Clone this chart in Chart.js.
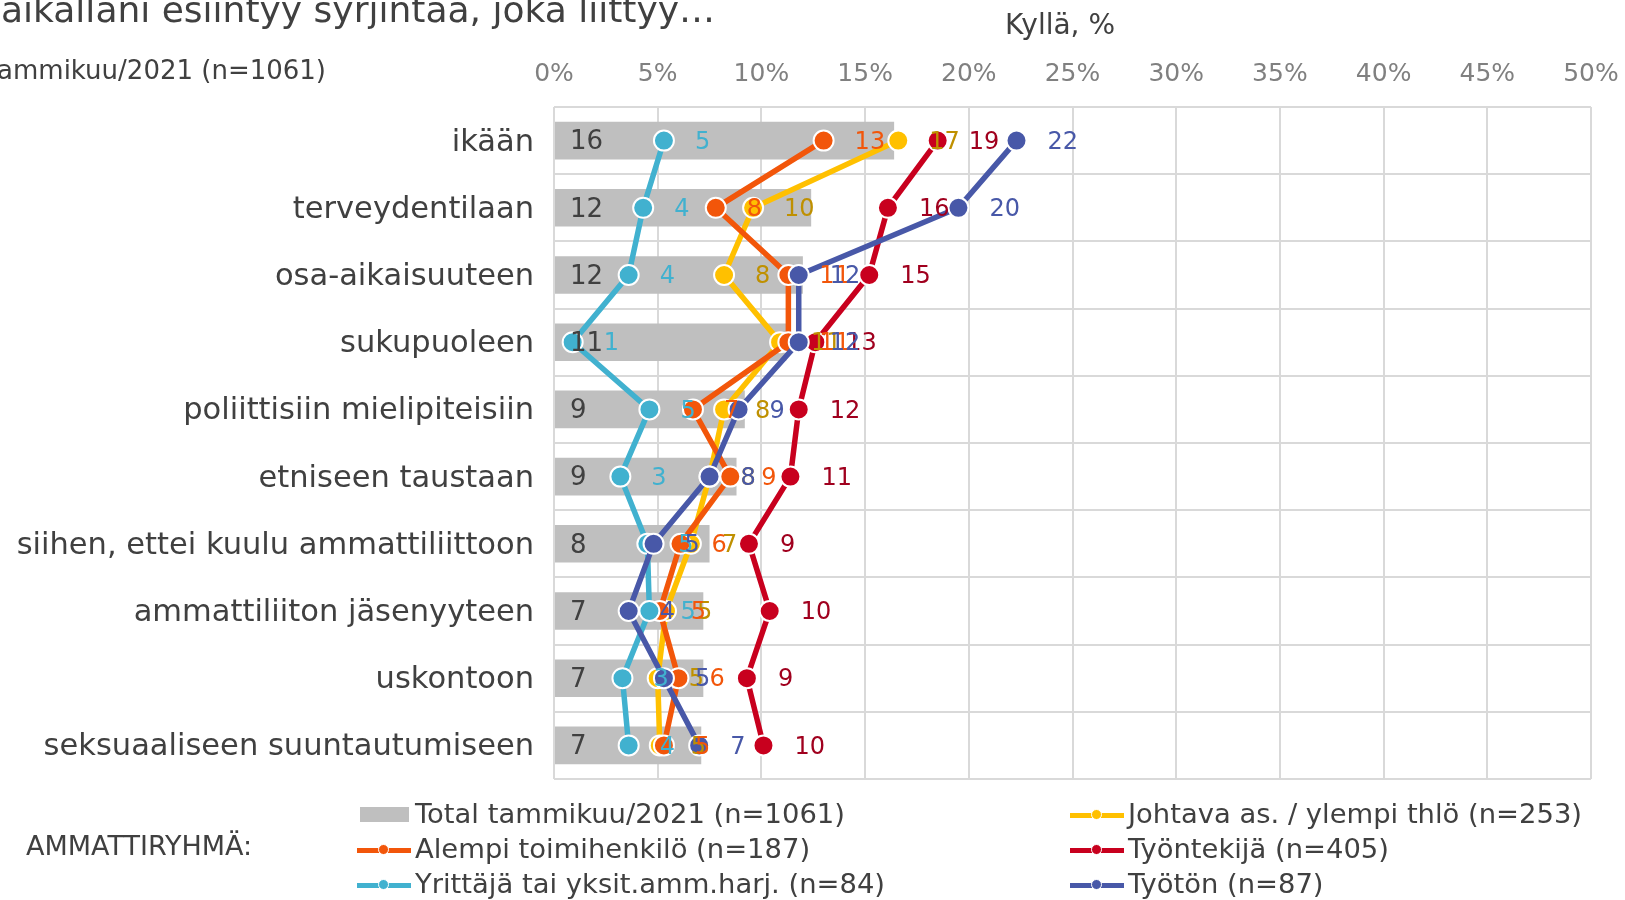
<!DOCTYPE html>
<html lang="fi">
<head>
<meta charset="utf-8">
<title>Syrjintä työpaikalla</title>
<script src="https://cdn.jsdelivr.net/npm/chart.js@4.4.1/dist/chart.umd.min.js"></script>
<style>
  html, body { margin: 0; padding: 0; background: #fff; overflow: hidden; }
  #wrap { position: relative; width: 1625px; height: 900px; font-family: "DejaVu Sans", Verdana, sans-serif; color: #404040; }
  #chart { position: absolute; left: 0; top: 0; }
  .txt { position: absolute; white-space: nowrap; }
  .sym { position: absolute; }
</style>
</head>
<body>
<div id="wrap">
  <canvas id="chart" width="1625" height="900"></canvas>
  <div class="txt" id="title" style="right:910px; top:-8px; font-size:36px; line-height:36px;">Työpaikallani esiintyy syrjintää, joka liittyy…</div>
  <div class="txt" id="subtitle" style="right:1299px; top:57px; font-size:26px; line-height:26px;">Total tammikuu/2021 (n=1061)</div>
  <div class="txt" id="axisTitle" style="left:1000px; width:120px; text-align:center; top:11px; font-size:28px; line-height:28px;">Kyllä, %</div>
  <div class="txt" id="groupTitle" style="left:26px; top:832px; font-size:27px; line-height:27px;">AMMATTIRYHMÄ:</div>
</div>
<script>
// Data
const categories = [
    'ikään',
    'terveydentilaan',
    'osa-aikaisuuteen',
    'sukupuoleen',
    'poliittisiin mielipiteisiin',
    'etniseen taustaan',
    'siihen, ettei kuulu ammattiliittoon',
    'ammattiliiton jäsenyyteen',
    'uskontoon',
    'seksuaaliseen suuntautumiseen'
];
const totalValues      = [16.4, 12.4, 12.0, 11.2, 9.2, 8.8, 7.5, 7.2, 7.2, 7.1];
const johtavaValues    = [16.6, 9.6, 8.2, 10.9, 8.2, 7.5, 6.6, 5.4, 5.0, 5.1];
const alempiValues     = [13.0, 7.8, 11.3, 11.3, 6.7, 8.5, 6.1, 5.1, 6.0, 5.3];
const tyontekijaValues = [18.5, 16.1, 15.2, 12.6, 11.8, 11.4, 9.4, 10.4, 9.3, 10.1];
const yrittajaValues   = [5.3, 4.3, 3.6, 0.9, 4.6, 3.2, 4.5, 4.6, 3.3, 3.6];
const tyotonValues     = [22.3, 19.5, 11.8, 11.8, 8.9, 7.5, 4.8, 3.6, 5.3, 7.0];
const xTickLabels = ['0%', '5%', '10%', '15%', '20%', '25%', '30%', '35%', '40%', '45%', '50%'];

const seriesNames = [
    'Total tammikuu/2021 (n=1061)',
    'Johtava as. / ylempi thlö (n=253)',
    'Alempi toimihenkilö (n=187)',
    'Työntekijä (n=405)',
    'Yrittäjä tai yksit.amm.harj. (n=84)',
    'Työtön (n=87)'
];
const seriesValues = [totalValues, johtavaValues, alempiValues, tyontekijaValues, yrittajaValues, tyotonValues];
const lineColors  = ['#bfbfbf', '#ffc000', '#f2560a', '#c8001e', '#41b1cf', '#4858a8'];
const labelColors = ['#404040', '#bf9000', '#f2560a', '#a0001e', '#41b1cf', '#4858a8'];

const FONT = '"DejaVu Sans", Verdana, sans-serif';

// Etiketit pisteiden oikealle puolelle, kaikkien sarjojen päälle
const valueLabels = {
    id: 'valueLabels',
    afterDatasetsDraw(chart) {
        const c = chart.ctx;
        c.save();
        c.textBaseline = 'middle';
        c.textAlign = 'left';
        chart.data.datasets.forEach((ds, i) => {
            const meta = chart.getDatasetMeta(i);
            meta.data.forEach((el, j) => {
                const txt = String(Math.round(ds.data[j]));
                c.fillStyle = labelColors[i];
                if (ds.type === 'line') {
                    c.font = '24px ' + FONT;
                    c.fillText(txt, el.x + 31, el.y + 2);
                } else {
                    c.font = '26px ' + FONT;
                    c.fillText(txt, chart.chartArea.left + 16, el.y + 2);
                }
            });
        });
        c.restore();
    }
};

const datasets = seriesValues.map((vals, i) => {
    if (i === 0) {
        return {
            type: 'bar',
            label: seriesNames[i],
            data: vals,
            backgroundColor: lineColors[i],
            barPercentage: 0.56,
            categoryPercentage: 1,
            order: 10
        };
    }
    return {
        type: 'line',
        label: seriesNames[i],
        data: vals,
        indexAxis: 'y',
        borderColor: lineColors[i],
        backgroundColor: lineColors[i],
        borderWidth: 5.5,
        pointRadius: 10,
        pointHoverRadius: 10,
        pointBackgroundColor: lineColors[i],
        pointBorderColor: '#ffffff',
        pointBorderWidth: 2,
        tension: 0,
        fill: false,
        order: 10 - i
    };
});

const ctx = document.getElementById('chart').getContext('2d');
new Chart(ctx, {
    type: 'bar',
    data: { labels: categories, datasets: datasets },
    options: {
        indexAxis: 'y',
        responsive: false,
        animation: false,
        devicePixelRatio: 1,
        layout: { padding: { left: 0, right: 34, top: 0, bottom: 121 } },
        plugins: {
            legend: { display: false },
            tooltip: { enabled: false }
        },
        scales: {
            x: {
                position: 'top',
                min: 0,
                max: 50,
                ticks: {
                    stepSize: 5,
                    color: '#808080',
                    font: { family: FONT, size: 25 },
                    padding: 18,
                    callback: (v, idx) => xTickLabels[idx]
                },
                grid: { color: '#d9d9d9', lineWidth: 2, drawTicks: false },
                border: { display: false },
                afterFit(scale) {
                    scale.height = 107;
                    scale.paddingLeft = 0;
                    scale.paddingRight = 0;
                }
            },
            y: {
                ticks: {
                    color: '#404040',
                    font: { family: FONT, size: 30.5 },
                    padding: 20,
                    labelOffset: 2
                },
                grid: { color: '#d9d9d9', lineWidth: 2, drawTicks: false, offset: true },
                border: { display: false },
                afterFit(scale) { scale.width = 554; }
            }
        }
    },
    plugins: [valueLabels]
});

// Selite HTML:nä
const wrap = document.getElementById('wrap');
const legendCols = [357, 1070];
const legendRows = [815, 850, 885];
seriesNames.forEach((name, i) => {
    const x = legendCols[i % 2];
    const y = legendRows[Math.floor(i / 2)];
    if (i === 0) {
        const box = document.createElement('div');
        box.className = 'sym';
        box.style.cssText = `left:${x + 3}px; top:${y - 8}px; width:49px; height:15px; background:${lineColors[i]};`;
        wrap.appendChild(box);
    } else {
        const line = document.createElement('div');
        line.className = 'sym';
        line.style.cssText = `left:${x}px; top:${y - 2.5}px; width:54px; height:5px; background:${lineColors[i]};`;
        wrap.appendChild(line);
        const dot = document.createElement('div');
        dot.className = 'sym';
        dot.style.cssText = `left:${x + 21}px; top:${y - 6}px; width:9px; height:9px; border-radius:50%; border:1.5px solid #fff; background:${lineColors[i]};`;
        wrap.appendChild(dot);
    }
    const t = document.createElement('div');
    t.className = 'txt';
    t.textContent = name;
    t.style.cssText = `left:${x + 58}px; top:${y - 15}px; font-size:27.4px; line-height:27px;`;
    wrap.appendChild(t);
});
</script>
</body>
</html>
